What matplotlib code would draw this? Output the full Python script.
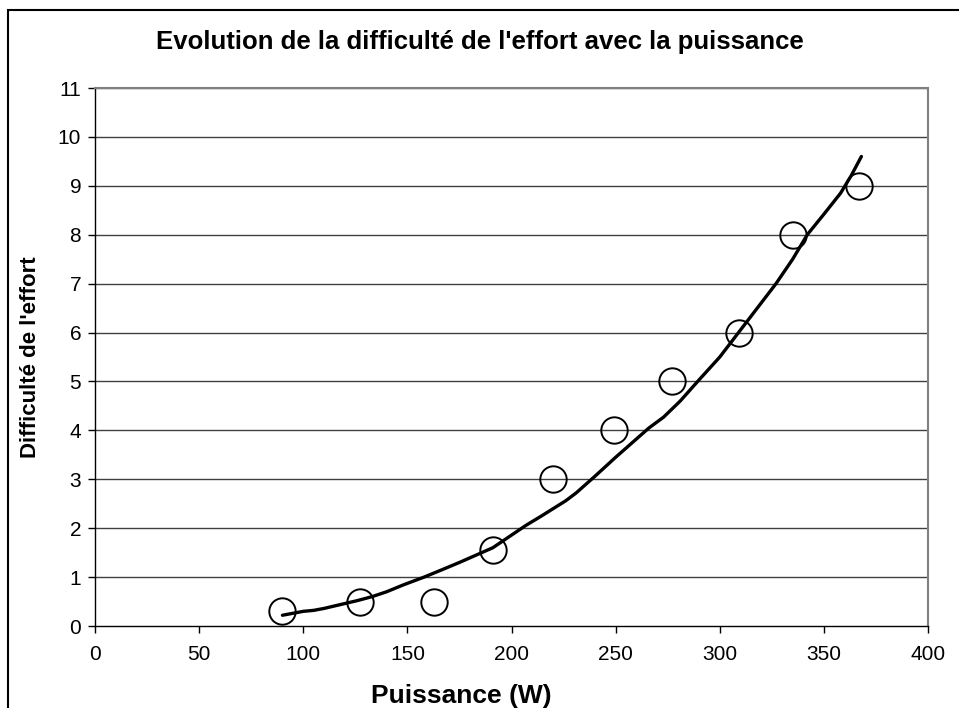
import matplotlib.pyplot as plt
from matplotlib.patches import Rectangle

plt.rcParams['font.family'] = ['Liberation Sans', 'DejaVu Sans']

# measured points
puissance = [90, 127, 163, 191, 220, 249, 277, 309, 335, 367]
difficulte = [0.3, 0.5, 0.5, 1.55, 3, 4, 5, 6, 8, 9]

# trend curve
courbe_x = [90, 95, 100, 105, 110, 118, 126, 133, 140, 148, 158, 166, 175, 183,
            191, 199, 207, 214, 220, 226, 231, 240, 250, 258, 266, 273, 281,
            290, 300, 309, 318, 327, 335, 342, 350, 358, 363, 368]
courbe_y = [0.22, 0.26, 0.3, 0.32, 0.36, 0.44, 0.52, 0.6, 0.7, 0.84, 1.0, 1.14,
            1.3, 1.45, 1.6, 1.83, 2.06, 2.24, 2.4, 2.56, 2.72, 3.06, 3.45, 3.75,
            4.05, 4.27, 4.6, 5.03, 5.5, 6.0, 6.5, 7.0, 7.5, 8.0, 8.42, 8.85, 9.2,
            9.6]

fig = plt.figure(figsize=(9.59, 7.08), dpi=100)
ax = fig.add_axes([0.0991, 0.1158, 0.8686, 0.7599])

# outer chart border
fig.patches.append(Rectangle((0.008, -0.05), 1.2, 1.036, transform=fig.transFigure,
                             fill=False, edgecolor='black', linewidth=1.5))

for yv in range(1, 12):
    ax.axhline(yv, color='#404040', linewidth=1, zorder=1)

ax.plot(courbe_x, courbe_y, color='black', linewidth=2.4, zorder=3,
        solid_capstyle='round', solid_joinstyle='round')
ax.plot(puissance, difficulte, linestyle='none', marker='o', markersize=19,
        markerfacecolor='none', markeredgecolor='black', markeredgewidth=1.4, zorder=4)

ax.set_xlim(0, 400)
ax.set_ylim(0, 11)
ax.set_xticks(range(0, 401, 50))
ax.set_yticks(range(0, 12))
ax.tick_params(direction='out', length=5, width=1, labelsize=15)
ax.tick_params(axis='x', pad=9)
ax.tick_params(axis='y', pad=5)

for s in ['top', 'right']:
    ax.spines[s].set_color('#808080')
    ax.spines[s].set_linewidth(1.5)
for s in ['left', 'bottom']:
    ax.spines[s].set_color('black')
    ax.spines[s].set_linewidth(1)

ax.set_xlabel('Puissance (W)', fontsize=19, fontweight='bold', labelpad=14)
ax.xaxis.label.set_x(0.44)
ax.set_ylabel("Difficulté de l'effort", fontsize=16, fontweight='bold', labelpad=12)
fig.text(0.5, 0.94, "Evolution de la difficulté de l'effort avec la puissance",
         ha='center', va='center', fontsize=18.5, fontweight='bold')

fig.savefig('out.png', dpi=100)
